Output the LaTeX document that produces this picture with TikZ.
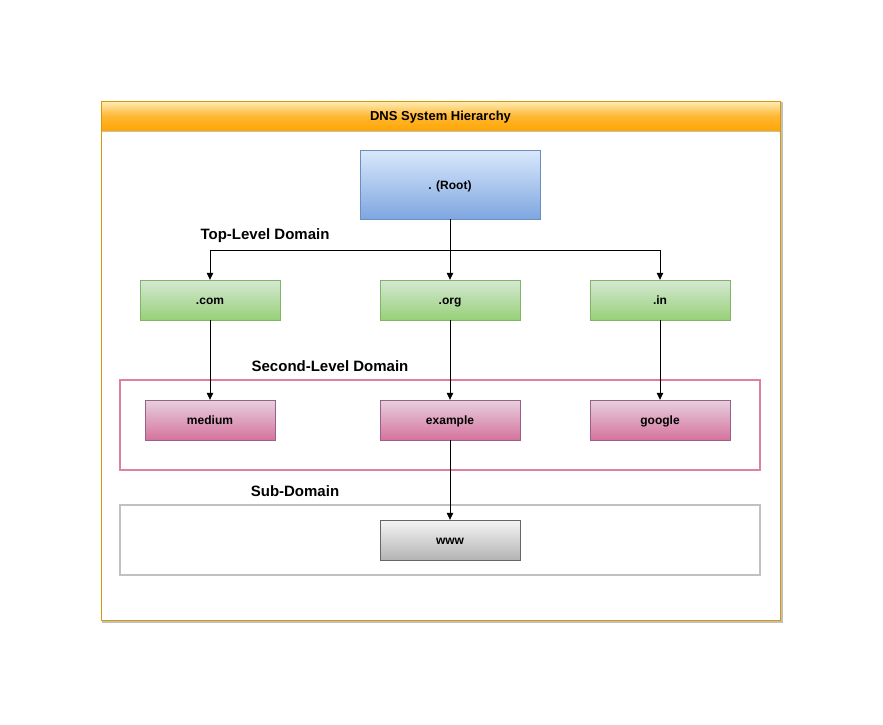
\documentclass[tikz,border=0pt]{standalone}
\usepackage{fontspec}
\setmainfont{Liberation Sans}
\usetikzlibrary{arrows.meta}
\definecolor{blueT}{HTML}{DAE8FC}\definecolor{blueB}{HTML}{7EA6E0}\definecolor{blueD}{HTML}{6C8EBF}
\definecolor{greenT}{HTML}{D5E8D4}\definecolor{greenB}{HTML}{97D077}\definecolor{greenD}{HTML}{82B366}
\definecolor{pinkT}{HTML}{E6D0DE}\definecolor{pinkB}{HTML}{D5739D}\definecolor{pinkD}{HTML}{996185}
\definecolor{grayT}{HTML}{F5F5F5}\definecolor{grayB}{HTML}{B3B3B3}\definecolor{grayD}{HTML}{666666}
\definecolor{orangeD}{HTML}{D79B00}\definecolor{orangeT}{HTML}{FFEDB8}\definecolor{orangeB}{HTML}{FFA500}
\definecolor{pinkC}{HTML}{E07FA6}\definecolor{grayC}{HTML}{C0C0C0}
\tikzset{
  box/.style={draw, minimum height=40pt, inner sep=0pt, text height=9.5pt, text depth=0pt, font=\fontsize{12}{14}\selectfont\bfseries},
  bluebox/.style={box, draw=blueD, top color=blueT, bottom color=blueB},
  greenbox/.style={box, draw=greenD, top color=greenT, bottom color=greenB, minimum width=140pt},
  pinkbox/.style={box, draw=pinkD, top color=pinkT, bottom color=pinkB},
  graybox/.style={box, draw=grayD, top color=grayT, bottom color=grayB, minimum width=140pt},
  lbl/.style={font=\fontsize{15}{17}\selectfont\bfseries, inner sep=0pt},
  conn/.style={draw=black, line width=0.8pt, -{Triangle[length=7pt,width=6.5pt]}}
}
\begin{document}
\begin{tikzpicture}[x=1pt,y=-1pt]
\useasboundingbox (0,0) rectangle (883,724);
% container shadow
\draw[grayC, line width=1.5pt] (103,103) rectangle (782,622);
\fill[white] (101,101) rectangle (780,620);
% header
\shade[top color=orangeT, bottom color=orangeB, middle color=orangeB!80!white, shading angle=0] (101,101) rectangle (780,131);
\draw[orangeD, line width=1pt] (101,101) rectangle (780,620);
\draw[grayC, line width=1pt] (102,131) -- (779,131);
\node[font=\fontsize{13}{15}\selectfont\bfseries, text height=8pt, text depth=0pt] (title) at (440.5,116) {DNS System Hierarchy};
% group containers
\draw[pinkC, line width=1.8pt] (120,380) rectangle (760,470);
\draw[grayC, line width=1.8pt] (120,505) rectangle (760,575);
% nodes
\node[bluebox, minimum width=180pt, minimum height=69pt] (root) at (450,184.5) {. (Root)};
\node[greenbox] (com) at (210,300) {.com};
\node[greenbox] (org) at (450,300) {.org};
\node[greenbox] (in) at (660,300) {.in};
\node[pinkbox, minimum width=130pt] (medium) at (210,420) {medium};
\node[pinkbox, minimum width=140pt] (example) at (450,420) {example};
\node[pinkbox, minimum width=140pt] (google) at (660,420) {google};
\node[graybox] (www) at (450,540) {www};
% labels
\node[lbl] (tld) at (265,236) {Top-Level Domain};
\node[lbl] (sld) at (330,366) {Second-Level Domain};
\node[lbl] (sub) at (295,491) {Sub-Domain};
% connectors
\coordinate (split) at (450,250);
\draw[conn] (root.south) -- (org.north);
\draw[conn] (split) -| (com.north);
\draw[conn] (split) -| (in.north);
\draw[conn] (com.south) -- (medium.north);
\draw[conn] (org.south) -- (example.north);
\draw[conn] (in.south) -- (google.north);
\draw[conn] (example.south) -- (www.north);
\end{tikzpicture}
\end{document}
